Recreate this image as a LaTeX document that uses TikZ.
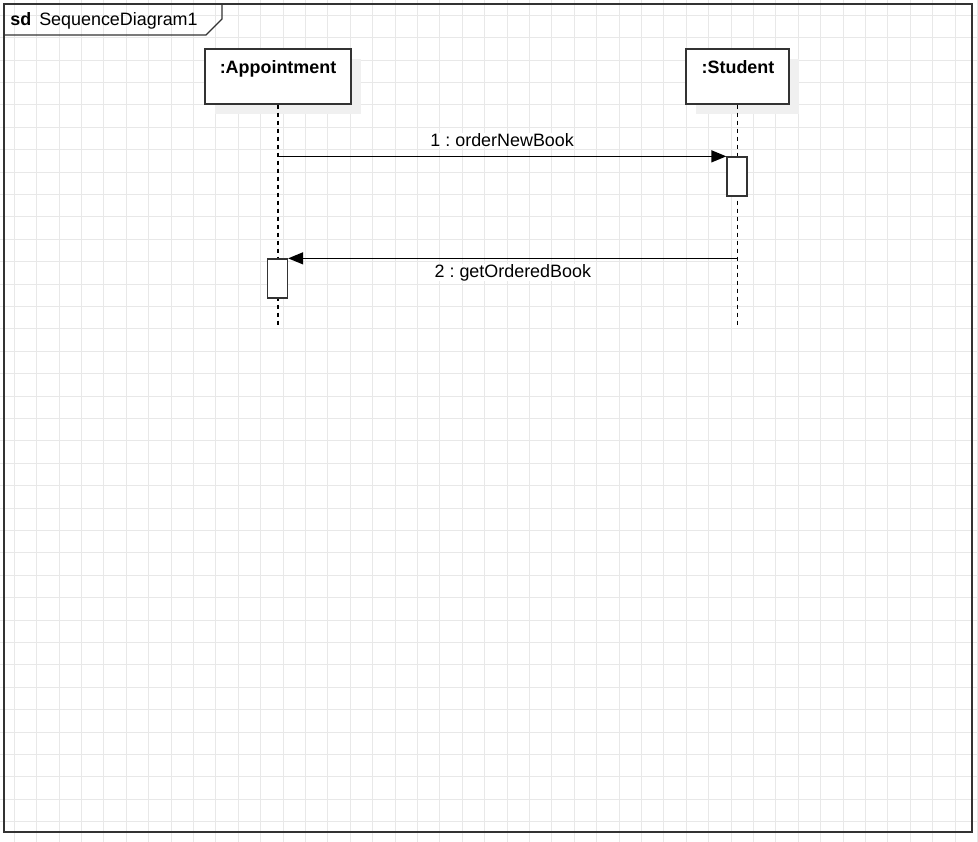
\documentclass[tikz,border=0pt]{standalone}
\usepackage{fontspec}
\setmainfont{Liberation Sans}
\usetikzlibrary{arrows.meta, shadows, positioning}
\definecolor{linegray}{HTML}{333333}
\definecolor{gridgray}{HTML}{E8E8E8}
\frenchspacing

\begin{document}
\begin{tikzpicture}[
    x=0.02cm, y=-0.02cm,
    font=\fontsize{10.2}{12}\selectfont,
    gridline/.style={draw=gridgray, line width=0.5pt},
    frame/.style={draw=linegray, line width=0.75pt},
    lifebox/.style={rectangle, draw=linegray, line width=0.75pt, fill=white, minimum width=2.92cm, minimum height=1.1cm, inner sep=0pt,
        general shadow={fill=black!6, shadow xshift=0.2cm, shadow yshift=-0.2cm}},
    boxlabel/.style={anchor=base, inner sep=0pt, font=\fontsize{10.2}{12}\selectfont\bfseries},
    actbox/.style={rectangle, draw=linegray, line width=0.75pt, fill=white, minimum width=0.4cm, minimum height=0.78cm, inner sep=0pt},
    lifeline/.style={draw=black, line width=0.7pt, dash pattern=on 0.08cm off 0.08cm},
    msg/.style={draw=black, line width=0.75pt, -{Triangle[length=0.3cm, width=0.24cm]}},
    msglabel/.style={anchor=base, inner sep=0pt, fill=white}
]
\useasboundingbox (0,0) rectangle (978,842);

% --- Сетка ---
\foreach \i in {0,...,43}
    \draw[gridline] ({14.3+22.4*\i},0) -- ++(0,842);
\foreach \j in {0,...,36}
    \draw[gridline] (0,{15.2+22.4*\j}) -- ++(978,0);

% --- Рамка sd ---
\draw[frame] (4,4) rectangle (972,832);
\draw[frame] (4,35) -- (206,35) -- (222,19) -- (222,4);
\node[anchor=base west, inner sep=0pt] (sdname) at (10,25.5) {\textbf{sd}\hspace{0.16cm}SequenceDiagram1};

% --- Участники ---
\node[lifebox, minimum width=2.92cm] (app) at (278,76.5) {};
\node[boxlabel] (appname) at (278,73) {:Appointment};
\node[lifebox, minimum width=2.06cm] (stu) at (737.5,76.5) {};
\node[boxlabel] (stuname) at (738,73) {:Student};

% Линии жизни
\coordinate (appEnd) at (278,328);
\coordinate (stuEnd) at (737.5,328);
\draw[lifeline] (app.south) -- (appEnd);
\draw[lifeline] (stu.south) -- (stuEnd);

% --- Активации ---
\node[actbox] (act1) at (737,176.5) {};
\node[actbox] (act2) at (277.5,278.5) {};

% --- Сообщения ---
\draw[msg] (app |- act1.north west) -- (act1.north west)
    node[msglabel, midway, yshift=0.2cm] (m1) {1 : orderNewBook};
\draw[msg] (stu |- act2.north east) -- (act2.north east)
    node[msglabel, midway, yshift=-0.38cm] (m2) {2 : getOrderedBook};
\end{tikzpicture}
\end{document}
